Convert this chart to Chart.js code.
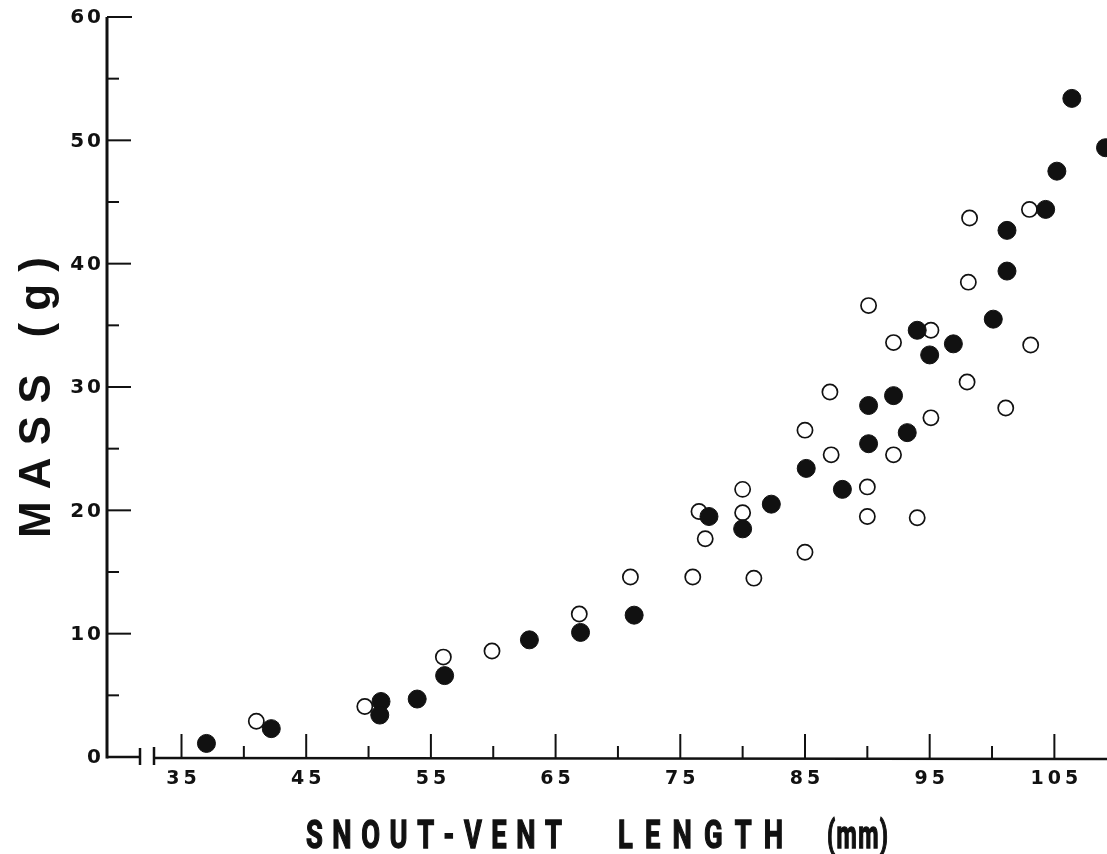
<!DOCTYPE html>
<html>
<head>
<meta charset="utf-8">
<script src="https://cdn.jsdelivr.net/npm/chart.js@4/dist/chart.umd.min.js"></script>
<style>
  html, body { margin: 0; padding: 0; background: #fff; }
  #wrap { width: 1107px; height: 854px; }
</style>
</head>
<body>
<div id="wrap"><canvas id="chart-svl" width="1107" height="854"></canvas></div>
<script>
// Mass vs snout-vent length, two groups (filled / open circles)
const filledSvl  = [37.0, 42.2, 51.0, 50.9, 53.9, 56.1, 62.9, 67.0, 71.3, 77.3, 80.0, 82.3, 85.1, 88.0,
                    90.1, 90.1, 92.1, 93.2, 95.0, 94.0, 96.9, 100.1, 101.2, 101.2, 104.3, 105.2, 106.4, 109.1];
const filledMass = [1.1, 2.3, 4.5, 3.4, 4.7, 6.6, 9.5, 10.1, 11.5, 19.5, 18.5, 20.5, 23.4, 21.7,
                    25.4, 28.5, 29.3, 26.3, 32.6, 34.6, 33.5, 35.5, 39.4, 42.7, 44.4, 47.5, 53.4, 49.4];

const openSvl  = [41.0, 49.7, 56.0, 59.9, 66.9, 71.0, 76.0, 80.9, 76.5, 77.0, 80.0, 80.0, 85.0, 85.0, 87.0,
                  87.1, 90.0, 90.0, 90.1, 92.1, 92.1, 94.0, 95.1, 95.1, 98.0, 98.1, 98.2, 101.1, 103.0, 103.1];
const openMass = [2.9, 4.1, 8.1, 8.6, 11.6, 14.6, 14.6, 14.5, 19.9, 17.7, 21.7, 19.8, 16.6, 26.5, 29.6,
                  24.5, 21.9, 19.5, 36.6, 24.5, 33.6, 19.4, 27.5, 34.6, 30.4, 38.5, 43.7, 28.3, 44.4, 33.4];

const yMajorTicks = [0, 10, 20, 30, 40, 50, 60];
const yMinorTicks = [5, 15, 25, 35, 45, 55];
const xMajorTicks = [35, 45, 55, 65, 75, 85, 95, 105];
const xMinorTicks = [40, 50, 60, 70, 80, 90, 100];

const xTitleParts = ['SNOUT-VENT', 'LENGTH', '(mm)'];
const yTitle = 'MASS (g)';

const INK = '#111';

function toPoints(xs, ys) {
  return xs.map((v, i) => ({ x: v, y: ys[i] }));
}

// draw characters with a fixed extra gap, centred / right aligned at x
function spacedText(ctx, str, x, y, gap, align) {
  const chars = [...str];
  const widths = chars.map(c => ctx.measureText(c).width);
  const total = widths.reduce((a, b) => a + b, 0) + gap * (chars.length - 1);
  let cx = align === 'right' ? x - total : align === 'center' ? x - total / 2 : x;
  ctx.textAlign = 'left';
  chars.forEach((c, i) => { ctx.fillText(c, cx, y); cx += widths[i] + gap; });
}

// spread characters so the string runs from x0 to x1 (sx squeezes glyphs horizontally)
function fitText(ctx, str, x0, x1, y, sx = 1, heavy = 0) {
  const chars = [...str];
  const widths = chars.map(c => ctx.measureText(c).width * sx);
  const total = widths.reduce((a, b) => a + b, 0);
  const gap = (x1 - x0 - total) / (chars.length - 1);
  let cx = x0;
  ctx.textAlign = 'left';
  chars.forEach((c, i) => {
    ctx.save();
    ctx.translate(cx, y);
    ctx.scale(sx, 1);
    ctx.fillText(c, 0, 0);
    if (heavy) { ctx.lineWidth = heavy; ctx.strokeText(c, 0, 0); }
    ctx.restore();
    cx += widths[i] + gap;
  });
}

const penAxes = {
  id: 'penAxes',
  beforeDatasetsDraw(chart) {
    const { ctx, chartArea: area, scales: { x, y } } = chart;
    const ax = area.left + 1;
    const ay = y.getPixelForValue(0);

    ctx.save();
    ctx.strokeStyle = INK;
    ctx.fillStyle = INK;
    ctx.lineCap = 'butt';

    // y axis
    ctx.lineWidth = 3;
    ctx.beginPath();
    ctx.moveTo(ax, y.getPixelForValue(60));
    ctx.lineTo(ax, ay + 1.5);
    ctx.stroke();

    ctx.lineWidth = 2;
    yMajorTicks.forEach(v => {
      if (v === 0) return;
      const py = y.getPixelForValue(v);
      ctx.beginPath(); ctx.moveTo(ax, py); ctx.lineTo(ax + (v === 60 ? 25 : 24), py); ctx.stroke();
    });
    yMinorTicks.forEach(v => {
      const py = y.getPixelForValue(v);
      ctx.beginPath(); ctx.moveTo(ax, py); ctx.lineTo(ax + 12, py); ctx.stroke();
    });

    // x axis with break
    ctx.lineWidth = 2.5;
    const b1 = ax + 33, b2 = ax + 47;
    ctx.beginPath();
    ctx.moveTo(ax, ay); ctx.lineTo(b1, ay);
    ctx.moveTo(b2, ay + 1); ctx.lineTo(area.right, ay + 2);
    ctx.stroke();
    ctx.beginPath();
    ctx.moveTo(b1, ay - 9); ctx.lineTo(b1, ay + 8);
    ctx.moveTo(b2, ay - 10); ctx.lineTo(b2, ay + 8);
    ctx.stroke();

    ctx.lineWidth = 2;
    xMajorTicks.forEach(v => {
      const px = x.getPixelForValue(v);
      ctx.beginPath(); ctx.moveTo(px, ay + 1); ctx.lineTo(px, ay - 23); ctx.stroke();
    });
    xMinorTicks.forEach(v => {
      const px = x.getPixelForValue(v);
      ctx.beginPath(); ctx.moveTo(px, ay + 1); ctx.lineTo(px, ay - 11); ctx.stroke();
    });

    // tick labels
    ctx.textBaseline = 'middle';
    ctx.font = 'bold 20px "DejaVu Sans"';
    yMajorTicks.forEach(v => {
      spacedText(ctx, String(v), 101, y.getPixelForValue(v) + 1, 3, 'right');
    });
    ctx.font = 'bold 19px "DejaVu Sans"';
    xMajorTicks.forEach(v => {
      spacedText(ctx, String(v), x.getPixelForValue(v), ay + 22, 4, 'center');
    });

    // axis titles
    ctx.textBaseline = 'alphabetic';
    ctx.font = 'bold 39px Roboto, "DejaVu Sans", sans-serif';
    fitText(ctx, xTitleParts[0], 306, 562, 848, 0.7, 1.4);
    fitText(ctx, xTitleParts[1], 618, 783, 848, 0.7, 1.4);
    fitText(ctx, xTitleParts[2], 827, 888, 848, 0.6, 1.4);

    ctx.save();
    ctx.translate(50, 538);
    ctx.rotate(-Math.PI / 2);
    ctx.font = 'bold 44px "Liberation Sans", Arial, sans-serif';
    fitText(ctx, yTitle, 0, 281, 0);
    ctx.restore();

    ctx.restore();
  }
};

new Chart(document.getElementById('chart-svl'), {
  type: 'scatter',
  data: {
    datasets: [
      {
        label: 'filled',
        data: toPoints(filledSvl, filledMass),
        backgroundColor: INK,
        borderColor: INK,
        borderWidth: 1,
        pointRadius: 9,
        clip: false
      },
      {
        label: 'open',
        data: toPoints(openSvl, openMass),
        backgroundColor: '#fff',
        borderColor: INK,
        borderWidth: 1.7,
        pointRadius: 7.6,
        clip: false
      }
    ]
  },
  options: {
    responsive: false,
    animation: false,
    layout: { autoPadding: false, padding: { left: 106, right: 0, top: 17, bottom: 97 } },
    plugins: { legend: { display: false }, tooltip: { enabled: false } },
    scales: {
      x: { type: 'linear', min: 28.945, max: 109.22, display: false },
      y: { type: 'linear', min: 0, max: 60, display: false }
    }
  },
  plugins: [penAxes]
});
</script>
</body>
</html>
